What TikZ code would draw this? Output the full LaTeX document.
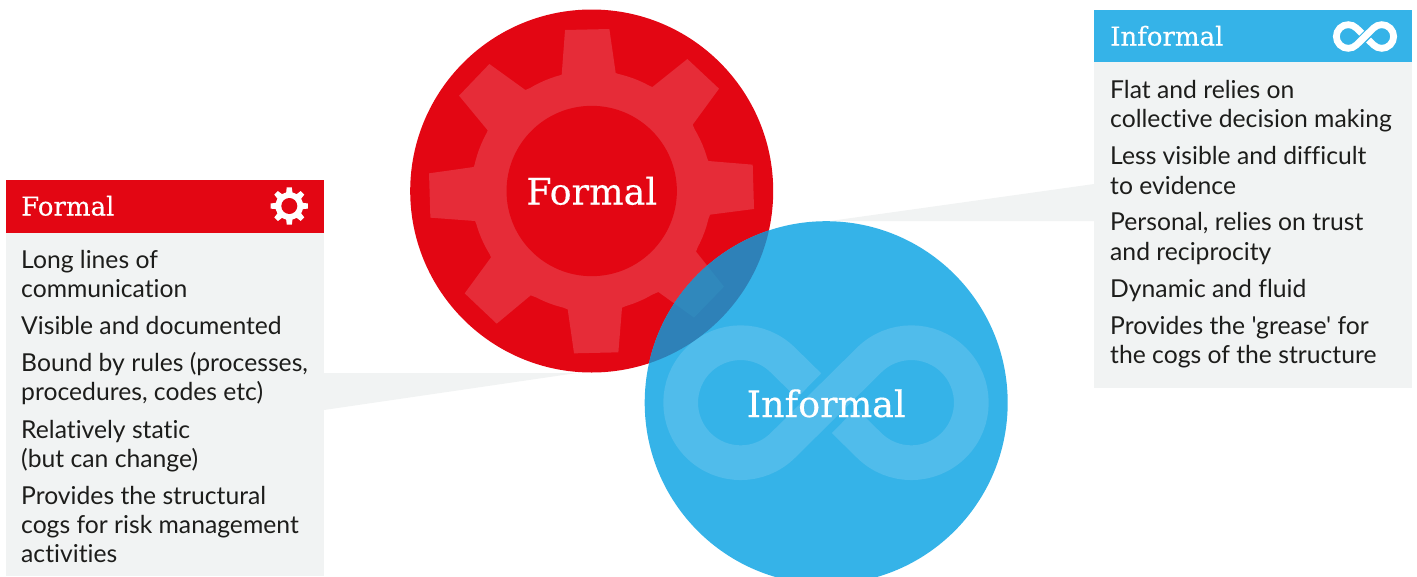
\documentclass[tikz,border=0pt]{standalone}
\usepackage{fontspec}
\setmainfont{Lato}
\newfontfamily\bodyfont{Lato}[Ligatures=CommonOff]
\newfontfamily\slabfont{DejaVu Serif}[FakeBold=0.35]
\definecolor{redmain}{HTML}{E30613}
\definecolor{redgear}{HTML}{E62C38}
\definecolor{bluemain}{HTML}{35B3E8}
\definecolor{bluering}{HTML}{50BCEB}
\definecolor{overlapa}{HTML}{2E81B8}
\definecolor{overlapb}{HTML}{3088BC}
\definecolor{panel}{HTML}{F1F3F3}
\definecolor{bodyink}{HTML}{1D1D1B}
\newcommand{\gearpoly}{(-80,-483) -- (53,-486) -- (72,-354) -- (182,-312) -- (287,-396) -- (382,-307) -- (303,-199) -- (350,-90) -- (483,-79) -- (487,54) -- (355,71) -- (313,182) -- (397,287) -- (307,380) -- (200,303) -- (91,350) -- (80,484) -- (-53,487) -- (-72,355) -- (-183,313) -- (-285,398) -- (-381,307) -- (-302,199) -- (-350,90) -- (-484,80) -- (-488,-53) -- (-354,-72) -- (-312,-182) -- (-398,-286) -- (-307,-381) -- (-199,-303) -- (-90,-349) -- cycle (0,0) circle[radius=360]}
\newcommand{\infshape}{(-17,-17) -- (-42.9,-42.43) arc[start angle=-45,end angle=-315,radius=60] -- (42.9,-42.43) arc[start angle=-135,end angle=135,radius=60] -- (18,18)}
\tikzset{
  bodyline/.style={anchor=base west,inner sep=0pt,font=\bodyfont\fontsize{24.7}{29}\selectfont,text=bodyink},
  headline/.style={anchor=base west,inner sep=0pt,font=\slabfont\fontsize{26}{30}\selectfont,text=white},
  circlelabel/.style={anchor=base,inner sep=0pt,font=\slabfont\fontsize{36.5}{44}\selectfont,text=white}
}
\begin{document}
\begin{tikzpicture}[x=1pt,y=-1pt]
\useasboundingbox (0,0) rectangle (1417,576);
\clip (0,0) rectangle (1417,576);
% callout wedges
\fill[panel] (324,373) -- (577,373) -- (324,410) -- cycle;
\fill[panel] (1094,184) -- (830,221) -- (1094,221) -- cycle;
% panels
\fill[panel] (6,233) rectangle (324,576);
\fill[redmain] (6,180) rectangle (324,233);
\fill[panel] (1094,62) rectangle (1412,388);
\fill[bluemain] (1094,10) rectangle (1412,62);
% Formal circle
\fill[redmain] (591.7,191) circle[radius=181.5];
\begin{scope}[shift={(591.7,191)},scale=1/3]
  \fill[redgear] \gearpoly;
  \fill[redmain] (0,0) circle[radius=255.5];
\end{scope}
% Informal circle
\fill[bluemain] (826.2,402.7) circle[radius=181.5];
\begin{scope}[shift={(826,402.7)}]
  \draw[bluering,line width=34.7pt] \infshape;
\end{scope}
% overlap
\begin{scope}
  \clip (591.7,191) circle[radius=181.5];
  \fill[overlapa] (826.2,402.7) circle[radius=181.5];
  \clip (826.2,402.7) circle[radius=181.5];
  \begin{scope}[shift={(591.7,191)},scale=1/3]
    \fill[overlapb] \gearpoly;
    \fill[overlapa] (0,0) circle[radius=255.5];
  \end{scope}
\end{scope}
\node[circlelabel] (formalc) at (591.7,204.5) {Formal};
\node[circlelabel] (informalc) at (826.2,417) {Informal};
% header icons
\begin{scope}[shift={(289.3,206)},scale=0.0385,rotate=-1.5]
  \fill[white] \gearpoly;
\end{scope}
\fill[redmain] (289.3,206) circle[radius=8];
\begin{scope}[shift={(1365,36.5)},scale=0.197]
  \draw[white,line width=6.8pt] \infshape;
\end{scope}
% headers
\node[headline] (formalh) at (21,215.5) {Formal};
\node[headline] (informalh) at (1110,45.5) {Informal};
% left text
\node[bodyline] (l1) at (21,268) {Long lines of};
\node[bodyline] (l2) at (21,297) {communication};
\node[bodyline] (l3) at (21,334) {Visible and documented};
\node[bodyline] (l4) at (21,371) {Bound by rules (processes,};
\node[bodyline] (l5) at (21,400.5) {procedures, codes etc)};
\node[bodyline] (l6) at (21,438) {Relatively static};
\node[bodyline] (l7) at (21,467.5) {(but can change)};
\node[bodyline] (l8) at (21,504) {Provides the structural};
\node[bodyline] (l9) at (21,533) {cogs for risk management};
\node[bodyline] (l10) at (21,562) {activities};
% right text
\node[bodyline] (r1) at (1110,98) {Flat and relies on};
\node[bodyline] (r2) at (1110,127) {collective decision making};
\node[bodyline] (r3) at (1110,164) {Less visible and difficult};
\node[bodyline] (r4) at (1110,194) {to evidence};
\node[bodyline] (r5) at (1110,230.7) {Personal, relies on trust};
\node[bodyline] (r6) at (1110,260) {and reciprocity};
\node[bodyline] (r7) at (1110,297) {Dynamic and fluid};
\node[bodyline] (r8) at (1110,334) {Provides the 'grease' for};
\node[bodyline] (r9) at (1110,363) {the cogs of the structure};
\end{tikzpicture}
\end{document}
